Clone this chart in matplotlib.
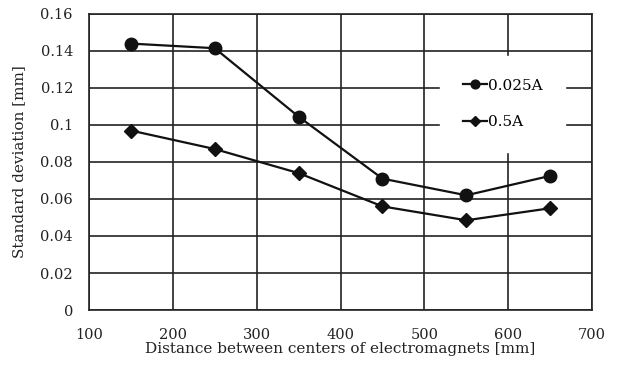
import matplotlib.pyplot as plt

distance = [150, 250, 350, 450, 550, 650]
sd_0025A = [0.144, 0.1415, 0.1045, 0.071, 0.062, 0.0725]
sd_05A = [0.097, 0.087, 0.074, 0.056, 0.0485, 0.055]

plt.rcParams['font.family'] = ['DejaVu Serif']

fig = plt.figure(figsize=(6.2, 3.67), dpi=100)
ax = fig.add_axes([0.1435, 0.1553, 0.8115, 0.8066])

ax.plot(distance, sd_0025A, color='#111111', lw=1.6, marker='o', ms=9, label='0.025A')
ax.plot(distance, sd_05A, color='#111111', lw=1.6, marker='D', ms=7, label='0.5A')

ax.set_xlim(100, 700)
ax.set_ylim(0, 0.16)
ax.set_xticks(range(100, 701, 100))
ax.set_yticks([0, 0.02, 0.04, 0.06, 0.08, 0.1, 0.12, 0.14, 0.16])
ax.set_yticklabels(['0', '0.02', '0.04', '0.06', '0.08', '0.1', '0.12', '0.14', '0.16'])
ax.grid(color='#222222', lw=1.2)
ax.set_axisbelow(True)
ax.tick_params(length=0, labelsize=10.5, colors='#222222')
ax.tick_params(axis='y', pad=11.5)
ax.tick_params(axis='x', pad=13)
for s in ax.spines.values():
    s.set_color('#222222')
    s.set_linewidth(1.2)

ax.set_xlabel('Distance between centers of electromagnets [mm]', fontsize=11, color='#222222', labelpad=0)
ax.set_ylabel('Standard deviation [mm]', fontsize=11, color='#222222', labelpad=10)

leg = ax.legend(loc='center', bbox_to_anchor=(0.822, 0.696), frameon=True, fontsize=11,
                handlelength=1.6, handletextpad=0.05, labelspacing=1.5,
                borderpad=1.5, borderaxespad=0, markerscale=0.7)
leg.get_frame().set_edgecolor('white')
leg.get_frame().set_facecolor('white')
leg.get_frame().set_alpha(1)
leg.get_frame().set_boxstyle('square', pad=0)

fig.savefig('out.png', dpi=100)
